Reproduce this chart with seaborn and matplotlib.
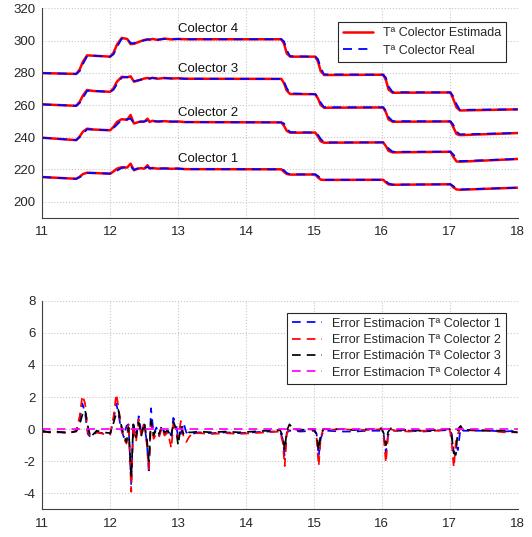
"""Estimated vs real collector temperatures and estimation errors."""

import matplotlib

matplotlib.use("Agg")
import matplotlib.pyplot as plt
import seaborn as sns

# ---- top panel: collector temperatures (shared time base) ----
t_top = [11.0, 11.5, 11.55, 11.6, 11.66, 11.75, 12.0, 12.05, 12.1, 12.17,
         12.25, 12.3, 12.35, 12.4, 12.45, 12.5, 12.55, 12.58, 12.62, 12.7,
         12.8, 12.9, 13.0, 13.1, 14.52, 14.56, 14.6, 14.65, 15.02, 15.06,
         15.1, 15.15, 16.02, 16.06, 16.1, 16.16, 17.01, 17.05, 17.1, 17.15,
         18.0]

c4_est = [279.8, 279.3, 282.0, 287.0, 290.8, 290.6, 290.0, 292.5, 297.5, 301.6,
          301.0, 297.8, 298.0, 298.8, 299.6, 300.3, 300.8, 300.5, 301.0, 300.4,
          301.2, 300.7, 301.0, 300.8, 300.8, 298.0, 292.0, 290.0, 290.0, 287.0,
          281.0, 278.6, 278.8, 275.5, 269.5, 267.6, 267.8, 264.0, 258.5, 256.6,
          257.3]
c3_est = [260.4, 259.5, 262.0, 266.0, 269.3, 268.7, 268.2, 270.5, 274.5, 277.5,
          277.2, 277.8, 274.5, 275.0, 275.8, 276.4, 276.8, 276.3, 276.9, 276.3,
          276.8, 276.4, 276.6, 276.3, 276.2, 273.5, 269.0, 266.8, 266.7, 264.0,
          260.0, 258.3, 258.5, 255.5, 251.0, 249.6, 249.8, 246.5, 242.0, 241.3,
          242.6]
c2_est = [239.7, 238.2, 240.5, 243.5, 245.3, 244.8, 244.3, 246.5, 249.5, 251.2,
          250.8, 253.8, 248.5, 249.2, 249.8, 249.6, 251.5, 249.5, 250.2, 249.7,
          250.0, 249.6, 249.8, 249.4, 249.2, 247.0, 244.0, 242.8, 242.9, 240.5,
          237.5, 236.6, 236.8, 234.5, 231.5, 230.6, 231.0, 228.0, 225.0, 224.8,
          226.5]
c1_est = [215.3, 214.2, 215.5, 217.2, 218.0, 217.8, 217.4, 218.8, 220.5, 221.4,
          221.2, 223.6, 219.5, 220.4, 220.8, 220.5, 222.6, 220.6, 220.9, 220.5,
          220.7, 220.4, 220.6, 220.2, 220.1, 218.5, 217.2, 216.8, 216.9, 215.0,
          213.7, 213.5, 213.6, 212.0, 210.7, 210.5, 210.8, 209.0, 207.6, 207.4,
          208.7]

c4_real = [279.8, 279.3, 281.0, 285.5, 290.3, 290.6, 290.0, 291.5, 296.0, 301.2,
           301.2, 298.4, 298.3, 299.0, 299.8, 300.1, 300.6, 300.7, 300.8, 300.6,
           301.0, 300.9, 300.9, 300.8, 300.8, 299.5, 294.0, 290.3, 290.0, 288.5,
           283.0, 279.0, 278.8, 277.0, 271.5, 268.0, 267.8, 265.5, 260.5, 257.0,
           257.3]
c3_real = [260.4, 259.5, 261.2, 264.5, 268.8, 268.7, 268.2, 269.5, 273.0, 277.0,
           277.4, 277.0, 274.8, 275.3, 275.6, 276.2, 276.6, 276.6, 276.7, 276.5,
           276.6, 276.6, 276.5, 276.3, 276.2, 274.5, 270.5, 267.2, 266.7, 265.0,
           261.5, 258.6, 258.5, 256.5, 252.5, 250.0, 249.8, 248.0, 243.5, 241.8,
           242.6]
c2_real = [239.7, 238.2, 240.0, 242.2, 244.9, 244.8, 244.3, 245.8, 247.8, 250.8,
           251.2, 251.5, 248.8, 249.5, 249.6, 249.8, 250.3, 250.0, 249.9, 249.8,
           249.9, 249.8, 249.6, 249.4, 249.2, 248.5, 245.5, 243.2, 242.9, 241.5,
           239.0, 236.8, 236.8, 235.5, 233.0, 231.0, 231.0, 229.5, 226.5, 225.2,
           226.5]
c1_real = [215.3, 214.2, 215.2, 216.3, 217.7, 217.8, 217.4, 218.2, 219.2, 221.0,
           221.4, 222.0, 219.8, 220.6, 220.6, 220.7, 221.5, 220.8, 220.7, 220.6,
           220.6, 220.6, 220.5, 220.2, 220.1, 219.5, 217.8, 217.0, 216.9, 216.0,
           214.3, 213.6, 213.6, 212.8, 211.3, 210.6, 210.8, 209.8, 208.2, 207.6,
           208.7]

collector_labels = ["Colector 1", "Colector 2", "Colector 3", "Colector 4"]
label_levels = [226.3, 254.8, 282.1, 307.1]

# ---- bottom panel: estimation errors ----
t_err = [11.0, 11.1, 11.2, 11.3, 11.4, 11.5, 11.55, 11.59, 11.63, 11.67,
         11.71, 11.8, 11.9, 12.0, 12.05, 12.09, 12.12, 12.16, 12.2, 12.24,
         12.27, 12.31, 12.34, 12.38, 12.42, 12.46, 12.5, 12.54, 12.57, 12.6,
         12.64, 12.68, 12.72, 12.76, 12.8, 12.85, 12.9, 12.93, 12.97, 13.0,
         13.04, 13.08, 13.12, 13.16, 13.2, 13.3, 13.5, 13.7, 13.9, 14.1,
         14.3, 14.5, 14.54, 14.57, 14.6, 14.64, 14.7, 14.8, 15.0, 15.04,
         15.07, 15.1, 15.14, 15.2, 15.4, 15.6, 15.8, 16.0, 16.03, 16.06,
         16.09, 16.13, 16.2, 16.4, 16.6, 16.8, 17.0, 17.03, 17.06, 17.09,
         17.12, 17.16, 17.2, 17.4, 17.6, 17.8, 18.0]

err_c1 = [-0.2, -0.15, -0.2, -0.2, -0.25, -0.1, 0.6, 1.6, 1.0, -0.3,
          -0.5, -0.2, -0.25, -0.3, 0.6, 1.6, 1.0, 0.0, -0.5, 0.2,
          0.3, -3.5, 0.4, -0.6, 0.8, -0.3, 0.3, -0.8, -2.8, 1.3,
          -0.3, 0.1, -0.4, 0.2, -0.3, 0.0, -0.4, 0.7, 0.3, -0.5,
          -0.3, 0.4, -0.2, -0.3, -0.3, -0.2, -0.25, -0.2, -0.25, -0.2,
          -0.15, -0.15, -0.6, -1.7, -0.2, -0.1, -0.1, -0.15, -0.1, -0.3,
          -1.7, -0.6, -0.1, -0.1, -0.15, -0.15, -0.1, -0.1, -0.4, -1.5,
          -0.4, -0.1, -0.1, -0.1, -0.15, -0.1, -0.05, -0.3, -1.5, -1.0,
          -1.3, 0.1, -0.1, -0.1, -0.1, -0.15, -0.1]
err_c2 = [-0.15, -0.2, -0.15, -0.2, -0.25, -0.1, 0.8, 2.1, 1.6, -0.2,
          -0.4, -0.2, -0.3, -0.35, 0.8, 2.2, 1.4, 0.2, -0.6, -0.9,
          0.4, -3.9, 0.2, -0.8, 0.6, -0.5, 0.5, -1.0, -2.5, 0.4,
          -0.6, -0.3, -0.5, 0.1, -0.4, -0.2, -1.2, 0.3, -0.2, -0.6,
          0.5, -0.5, -0.8, -0.5, -0.3, -0.25, -0.3, -0.25, -0.3, -0.25,
          -0.2, -0.15, -0.8, -2.3, -0.3, 0.1, 0.0, -0.05, 0.0, -0.6,
          -2.3, -0.5, 0.0, -0.05, 0.0, -0.05, -0.05, 0.0, -0.6, -2.1,
          -0.5, 0.0, -0.1, -0.15, -0.1, -0.1, 0.0, -0.9, -2.4, -0.8,
          -0.3, 0.1, -0.05, -0.1, -0.1, -0.2, -0.2]
err_c3 = [-0.1, -0.2, -0.15, -0.2, -0.2, -0.15, 0.3, 0.9, 1.2, 0.2,
          -0.5, -0.1, -0.2, -0.25, 0.4, 1.0, 1.2, 0.3, -0.4, -0.8,
          0.1, -3.0, 0.3, -0.5, 0.4, -0.4, 0.4, -0.6, -2.0, 0.5,
          -0.4, 0.0, -0.3, 0.2, -0.2, -0.1, -0.5, 0.5, 0.0, -1.0,
          0.2, -0.3, -0.4, -0.2, -0.2, -0.15, -0.2, -0.15, -0.2, -0.15,
          -0.1, -0.05, -0.4, -1.3, -0.1, 0.3, 0.0, -0.05, 0.0, -0.3,
          -1.3, -0.3, 0.0, 0.0, 0.0, -0.05, 0.0, 0.05, -0.3, -1.0,
          -0.2, 0.05, -0.05, -0.05, -0.1, -0.05, 0.0, -0.5, -1.5, -1.6,
          0.0, 0.2, -0.05, -0.05, -0.1, -0.1, -0.2]
t_err_c4 = [11.0, 18.0]
err_c4 = [0.02, 0.02]

err_labels = [
    "Error Estimacion Tª Colector 1",
    "Error Estimacion Tª Colector 2",
    "Error Estimación Tª Colector 3",
    "Error Estimacion Tª Colector 4",
]


def style_axes(ax):
    ax.grid(True, linestyle=":", color="#c8c8c8", linewidth=0.8)
    ax.set_axisbelow(True)
    for side in ("top", "right"):
        ax.spines[side].set_visible(False)
    for side in ("left", "bottom"):
        ax.spines[side].set_color("#404040")
        ax.spines[side].set_linewidth(0.8)
    ax.tick_params(direction="in", length=3, colors="#404040",
                   labelcolor="#262626", labelsize=9.5)
    ax.tick_params(axis="x", pad=6)
    ax.tick_params(axis="y", pad=5)
    ax.set_xlim(11, 18)
    ax.set_xticks(range(11, 19))
    ax.set_xlabel("")
    ax.set_ylabel("")


def main() -> None:
    sns.set_theme(style="white")
    plt.rcParams["font.family"] = ["Liberation Sans", "DejaVu Sans"]
    plt.rcParams["axes.unicode_minus"] = False

    fig = plt.figure(figsize=(5.32, 5.37), dpi=100)
    ax1 = fig.add_axes([0.0795, 0.5944, 0.8935, 0.3901])
    ax2 = fig.add_axes([0.0795, 0.0514, 0.8935, 0.3886])

    dash = (0, (5, 3.5))

    # top panel
    est_series = [c1_est, c2_est, c3_est, c4_est]
    real_series = [c1_real, c2_real, c3_real, c4_real]
    for i, (est, real) in enumerate(zip(est_series, real_series)):
        sns.lineplot(x=t_top, y=est, ax=ax1, color="#ff0000", linewidth=1.8,
                     errorbar=None, label="Tª Colector Estimada" if i == 0 else None)
        sns.lineplot(x=t_top, y=real, ax=ax1, color="#0000ff", linewidth=1.3,
                     linestyle=dash, errorbar=None,
                     label="Tª Colector Real" if i == 0 else None)
    for name, level in zip(collector_labels, label_levels):
        ax1.text(13.0, level, name, fontsize=9.5, va="center", ha="left",
                 color="#111111")
    style_axes(ax1)
    ax1.set_ylim(190, 320)
    ax1.set_yticks(range(200, 321, 20))
    leg1 = ax1.legend(loc="upper right", bbox_to_anchor=(0.975, 0.935),
                      borderaxespad=0, fontsize=9, fancybox=False, framealpha=1,
                      edgecolor="#262626", handlelength=2.4, labelspacing=0.45)
    leg1.get_frame().set_linewidth(0.8)

    # bottom panel
    err_series = [err_c1, err_c2, err_c3]
    err_colors = ["#0000ff", "#ff0000", "#000000"]
    for vals, color, name in zip(err_series, err_colors, err_labels[:3]):
        sns.lineplot(x=t_err, y=vals, ax=ax2, color=color, linewidth=1.25,
                     linestyle=dash, errorbar=None, label=name)
    sns.lineplot(x=t_err_c4, y=err_c4, ax=ax2, color="#ff00ff", linewidth=1.25,
                 linestyle=dash, errorbar=None, label=err_labels[3])
    style_axes(ax2)
    ax2.set_ylim(-5, 8)
    ax2.set_yticks(range(-4, 9, 2))
    leg2 = ax2.legend(loc="upper right", bbox_to_anchor=(0.975, 0.9425),
                      borderaxespad=0, fontsize=9, fancybox=False, framealpha=1,
                      edgecolor="#262626", handlelength=2.4, labelspacing=0.35)
    leg2.get_frame().set_linewidth(0.8)

    fig.savefig("out.png", dpi=100)
    plt.close(fig)


if __name__ == "__main__":
    main()
